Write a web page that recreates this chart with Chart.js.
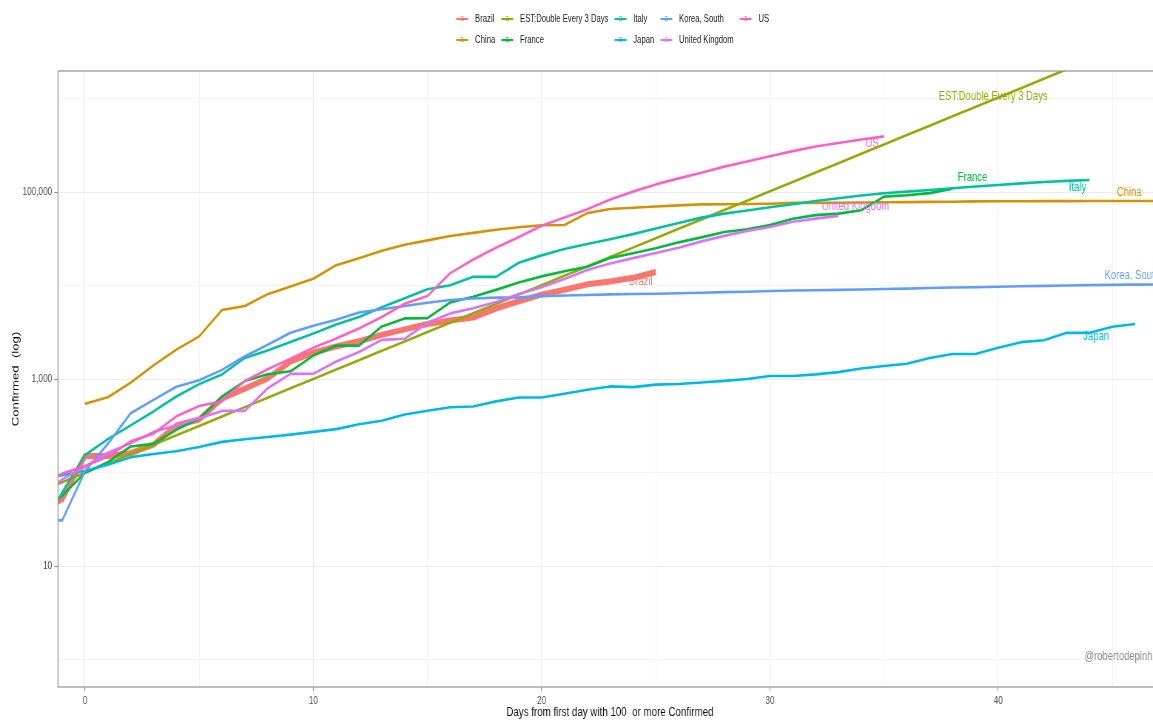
<!DOCTYPE html>
<html>
<head>
<meta charset="utf-8">
<script src="https://cdn.jsdelivr.net/npm/chart.js@4.4.1/dist/chart.umd.min.js"></script>
<style>
html, body { margin: 0; padding: 0; background: #fff; overflow: hidden; width: 1153px; height: 720px; }
/* the original picture was squeezed sideways, so draw wide and squeeze the same way */
#wrap { position: relative; width: 1574px; height: 720px; transform: scaleX(0.74); transform-origin: 0 0; }
#legend {
    position: absolute; top: 8px; left: 828px; transform: translateX(-50%);
    display: grid; grid-auto-flow: column; grid-template-rows: 21px 21px; column-gap: 8px;
    font: 10.4px "Liberation Sans", Arial, sans-serif;
    color: #1a1a1a;
}
.item { display: flex; align-items: center; white-space: nowrap; }
.key { position: relative; width: 16px; height: 2px; margin-right: 9.5px; }
.key span { position: absolute; left: 50%; top: 50%; transform: translate(-50%, -52%); font-size: 9px; line-height: 1; }
</style>
</head>
<body>
<div id="wrap">
    <canvas id="casesChart"></canvas>
    <div id="legend"></div>
</div>
<script>
// Confirmed cases by days from first day with 100 or more confirmed
var seriesNames = ['Brazil', 'China', 'EST:Double Every 3 Days', 'France', 'Italy', 'Japan', 'Korea, South', 'United Kingdom', 'US'];
var firstDays = [-2, 0, -2, -2, -2, -2, -2, -2, -2];
var labelDays = [25, 46, 40, 38, 44, 46, 46, 33, 35];

var brazil = [38, 52, 151, 151, 162, 200, 321, 372, 621, 793, 1021, 1546, 1924, 2247, 2554, 2985, 3417, 3904, 4256, 4579,
    5717, 6836, 8044, 9056, 10360, 11130, 12161, 14034];
var china = [548, 643, 920, 1406, 2075, 2877, 5509, 6087, 8141, 9802, 11891, 16630, 19716, 23707, 27440, 30587, 34110, 36814,
    39829, 42354, 44386, 44759, 59895, 66358, 68413, 70513, 72434, 74211, 74619, 75077, 75550, 77001, 77022, 77241, 77754,
    78166, 78600, 78928, 79356, 79932, 80136, 80261, 80386, 80537, 80690, 80770, 80823, 80860];
var doubleEvery3 = [63, 79, 100, 126, 159, 200, 252, 317, 400, 504, 635, 800, 1008, 1270, 1600, 2016, 2540, 3200, 4032, 5080,
    6400, 8063, 10159, 12800, 16127, 20319, 25600, 32254, 40637, 51200, 64508, 81275, 102400, 129016, 162550, 204800,
    258032, 325100, 409600, 516064, 650199, 819200, 1032127, 1300400, 1638400, 2064254, 2600800];
var france = [38, 57, 100, 130, 191, 204, 288, 380, 656, 957, 1134, 1217, 1792, 2289, 2289, 3672, 4480, 4513, 6650, 7652,
    9043, 10871, 12612, 14282, 16018, 19856, 22304, 25233, 29155, 32964, 37575, 40174, 44550, 52128, 56989, 59105, 64338,
    89953, 92839, 98010, 109069];
var italy = [20, 62, 155, 229, 322, 453, 655, 888, 1128, 1694, 2036, 2502, 3089, 3858, 4636, 5883, 7375, 9172, 10149, 12462,
    12462, 17660, 21157, 24747, 27980, 31506, 35713, 41035, 47021, 53578, 59138, 63927, 69176, 74386, 80589, 86498, 92472,
    97689, 101739, 105792, 110574, 115242, 119827, 124632, 128948, 132547, 135586];
var japan = [85, 94, 105, 122, 147, 159, 170, 189, 214, 228, 241, 256, 274, 293, 331, 360, 420, 461, 502, 511, 581, 639, 639,
    701, 773, 839, 825, 878, 889, 924, 963, 1007, 1086, 1086, 1128, 1193, 1307, 1387, 1468, 1693, 1866, 1866, 2178, 2495,
    2617, 3139, 3139, 3654, 3906];
var korea = [31, 31, 104, 204, 433, 602, 833, 977, 1261, 1766, 2337, 3150, 3736, 4335, 5186, 5621, 6088, 6593, 7041, 7314,
    7478, 7513, 7755, 7869, 7979, 8086, 8162, 8236, 8320, 8413, 8565, 8652, 8799, 8897, 8961, 9037, 9137, 9241, 9332, 9478,
    9583, 9661, 9786, 9887, 9976, 10062, 10156, 10237, 10284, 10331];
var uk = [51, 85, 116, 164, 207, 274, 322, 384, 459, 459, 802, 1144, 1145, 1551, 1960, 2642, 2716, 4014, 5067, 5745, 6726,
    8164, 9640, 11812, 14745, 17312, 19780, 22453, 25481, 29865, 34173, 38689, 42477, 48436, 52279, 55949];
var us = [74, 98, 118, 149, 217, 262, 402, 518, 583, 959, 1281, 1663, 2179, 2727, 3499, 4632, 6421, 7786, 13680, 19101,
    25493, 33276, 43847, 53740, 65778, 83836, 101657, 121478, 140886, 161807, 188172, 213372, 243453, 275586, 308850,
    337072, 366614, 396223];

var xTickValues = [0, 5, 10, 15, 20, 25, 30, 35, 40, 45];
var xTickLabels = ['0', '', '10', '', '20', '', '30', '', '40', ''];
var yTickValues = [1, 10, 100, 1000, 10000, 100000, 1000000];
var yTickLabels = ['', '10', '', '1,000', '', '100,000', ''];

var allValues = [brazil, china, doubleEvery3, france, italy, japan, korea, uk, us];

// styling
var SQUEEZE = 0.74;
var colors = ['#F8766D', '#D39200', '#93AA00', '#00BA38', '#00C19F', '#00B9E3', '#619CFF', '#DB72FB', '#FF61C3'];
var lineWidths = [6, 2.6, 2.6, 2.6, 2.6, 2.6, 2.6, 2.6, 2.6];
var labelNudge = [[-15, 9], [-6, -8], [-5, -1], [20, -11], [-12, 8], [-39, 13], [-3, -9], [17, -9], [-12, 7]];
var font = '"Liberation Sans", Arial, sans-serif';

var datasets = seriesNames.map(function (name, i) {
    return {
        label: name,
        data: allValues[i].map(function (v, k) { return { x: firstDays[i] + k, y: v }; }),
        borderColor: colors[i],
        backgroundColor: colors[i],
        borderWidth: lineWidths[i],
        pointRadius: 0,
        tension: 0,
        borderJoinStyle: 'round',
        clip: 0,
        order: seriesNames.length - 1 - i
    };
});

// legend in ggplot column order
var legend = document.getElementById('legend');
seriesNames.forEach(function (name, i) {
    var item = document.createElement('div');
    item.className = 'item';
    item.innerHTML = '<span class="key" style="background:' + colors[i] + ';color:' + colors[i] + '"><span>a</span></span>' + name;
    legend.appendChild(item);
});

var decorations = {
    id: 'decorations',
    afterDatasetsDraw: function (chart) {
        var ctx = chart.ctx, x = chart.scales.x, y = chart.scales.y, area = chart.chartArea;
        ctx.save();
        ctx.font = '12.8px ' + font;
        ctx.textAlign = 'center';
        ctx.textBaseline = 'middle';
        seriesNames.forEach(function (name, i) {
            var d = labelDays[i];
            var v = allValues[i][d - firstDays[i]];
            ctx.fillStyle = colors[i];
            ctx.fillText(name, x.getPixelForValue(d) + labelNudge[i][0] / SQUEEZE, y.getPixelForValue(v) + labelNudge[i][1]);
        });
        ctx.fillStyle = '#8a8a8a';
        ctx.textAlign = 'right';
        ctx.fillText('@robertodepinho', area.right - 4 / SQUEEZE, area.bottom - 31);
        ctx.strokeStyle = '#9a9a9a';
        ctx.lineWidth = 1.3;
        ctx.strokeRect(area.left, area.top, area.right - area.left, area.bottom - area.top);
        ctx.restore();
    }
};

var ctx = document.getElementById('casesChart').getContext('2d');
var casesChart = new Chart(ctx, {
    type: 'line',
    data: { datasets: datasets },
    plugins: [decorations],
    options: {
        responsive: true,
        maintainAspectRatio: false,
        animation: false,
        layout: { padding: { left: 0, top: 71, right: 3 / SQUEEZE, bottom: 0 } },
        plugins: { legend: { display: false }, tooltip: { enabled: false } },
        scales: {
            x: {
                type: 'linear',
                min: -1.1824,
                max: 47.165,
                afterBuildTicks: function (s) { s.ticks = xTickValues.map(function (v) { return { value: v }; }); },
                afterFit: function (s) { s.height = 33; },
                ticks: {
                    autoSkip: false, maxRotation: 0, padding: 3, color: '#4d4d4d',
                    font: { family: font, size: 11 },
                    callback: function (v, i) { return xTickLabels[i]; }
                },
                grid: {
                    tickLength: 4,
                    color: function (c) { return xTickLabels[c.index] ? '#ebebeb' : '#f4f4f4'; },
                    tickColor: function (c) { return xTickLabels[c.index] ? '#8a8a8a' : 'rgba(0,0,0,0)'; }
                },
                border: { display: false },
                title: {
                    display: true, text: 'Days from first day with 100  or more Confirmed', color: '#111',
                    font: { family: font, size: 13.2 }, padding: { top: 0, bottom: 0 }
                }
            },
            y: {
                type: 'logarithmic',
                min: 0.5117,
                max: 1983000,
                afterBuildTicks: function (s) { s.ticks = yTickValues.map(function (v) { return { value: v }; }); },
                afterFit: function (s) { s.width = 58 / SQUEEZE; },
                ticks: {
                    autoSkip: false, padding: 3, color: '#4d4d4d',
                    font: { family: font, size: 11 },
                    callback: function (v, i) { return yTickLabels[i]; }
                },
                grid: {
                    tickLength: 5,
                    color: function (c) { return yTickLabels[c.index] ? '#ebebeb' : '#f4f4f4'; },
                    tickColor: function (c) { return yTickLabels[c.index] ? '#8a8a8a' : 'rgba(0,0,0,0)'; }
                },
                border: { display: false },
                title: {
                    display: true, text: 'Confirmed  (log)', color: '#111',
                    font: { family: font, size: 13.2 }, padding: { top: 13.7, bottom: 0 }
                }
            }
        }
    }
});
</script>
</body>
</html>
